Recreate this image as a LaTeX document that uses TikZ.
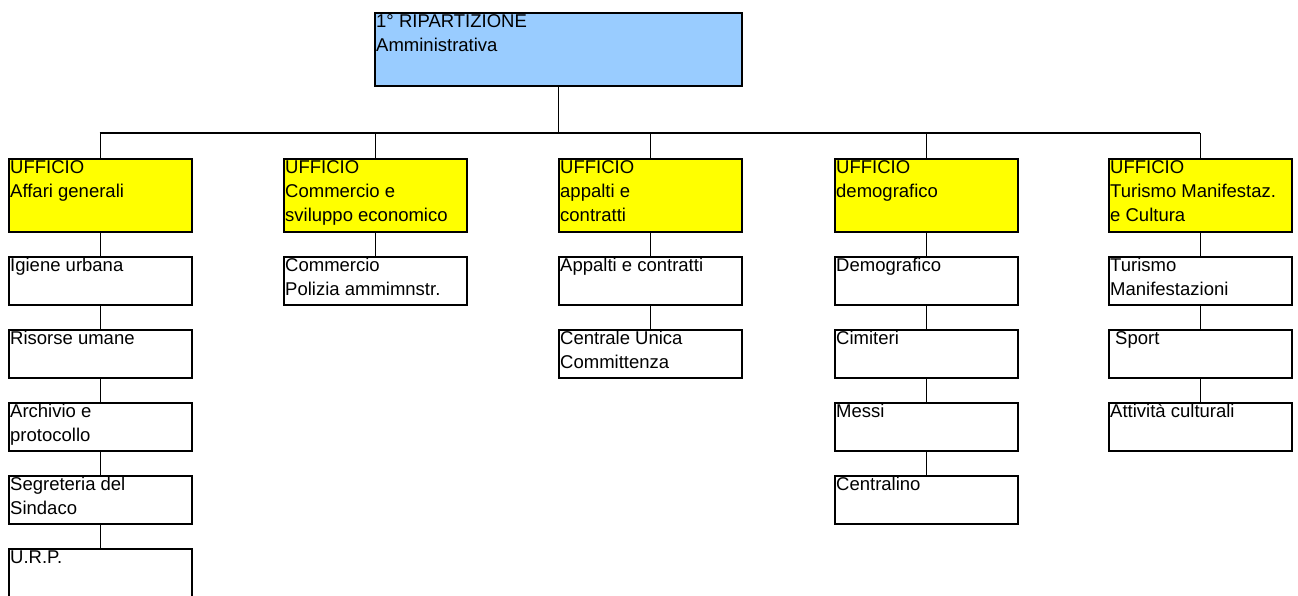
\documentclass[tikz,border=0pt]{standalone}
\usepackage{fontspec}
\setmainfont{Liberation Sans}
\definecolor{topblue}{HTML}{99CCFF}
\definecolor{offyellow}{HTML}{FFFF00}
\begin{document}
\begin{tikzpicture}[x=1pt,y=-1pt,
  boxbase/.style={draw=black,line width=2pt,rectangle,inner sep=0pt,anchor=north west,minimum width=183pt},
  topbox/.style={boxbase,fill=topblue,minimum width=367pt,minimum height=73pt},
  ufficio/.style={boxbase,fill=offyellow,minimum height=73pt},
  sub/.style={boxbase,fill=white,minimum height=48.5pt},
  txt/.style={anchor=north west,inner sep=0pt,align=left,font=\fontsize{18.5}{24}\selectfont},
  link/.style={draw=black,line width=1.8pt}]
\useasboundingbox (0,0) rectangle (1298,595);
% boxes
\node[topbox] (top) at (374,12) {};
\node[ufficio] (u1) at (8,158) {};
\node[ufficio] (u2) at (283,158) {};
\node[ufficio] (u3) at (558,158) {};
\node[ufficio] (u4) at (834,158) {};
\node[ufficio] (u5) at (1108,158) {};
% column 1
\node[sub] (a1) at (8,255.5) {};
\node[sub] (a2) at (8,328.5) {};
\node[sub] (a3) at (8,401.5) {};
\node[sub] (a4) at (8,474.5) {};
\node[sub] (a5) at (8,547.5) {};
% column 2
\node[sub] (b1) at (283,255.5) {};
% column 3
\node[sub] (c1) at (558,255.5) {};
\node[sub] (c2) at (558,328.5) {};
% column 4
\node[sub] (d1) at (834,255.5) {};
\node[sub] (d2) at (834,328.5) {};
\node[sub] (d3) at (834,401.5) {};
\node[sub] (d4) at (834,474.5) {};
% column 5
\node[sub] (e1) at (1108,255.5) {};
\node[sub] (e2) at (1108,328.5) {};
\node[sub] (e3) at (1108,401.5) {};
% texts
\newcommand{\boxtext}[3]{\node[txt] (#1) at ([xshift=2pt,yshift=1.3pt]#2.north west) {\strut #3};}
\boxtext{ttop}{top}{1° RIPARTIZIONE\\Amministrativa}
\boxtext{tu1}{u1}{UFFICIO\\Affari generali}
\boxtext{tu2}{u2}{UFFICIO\\Commercio e\\sviluppo economico}
\boxtext{tu3}{u3}{UFFICIO\\appalti e\\contratti}
\boxtext{tu4}{u4}{UFFICIO\\demografico}
\boxtext{tu5}{u5}{UFFICIO\\Turismo Manifestaz.\\e Cultura}
\boxtext{ta1}{a1}{Igiene urbana}
\boxtext{ta2}{a2}{Risorse umane}
\boxtext{ta3}{a3}{Archivio e\\protocollo}
\boxtext{ta4}{a4}{Segreteria del\\Sindaco}
\boxtext{ta5}{a5}{U.R.P.}
\boxtext{tb1}{b1}{Commercio\\Polizia ammimnstr.}
\boxtext{tc1}{c1}{Appalti e contratti}
\boxtext{tc2}{c2}{Centrale Unica\\Committenza}
\boxtext{td1}{d1}{Demografico}
\boxtext{td2}{d2}{Cimiteri}
\boxtext{td3}{d3}{Messi}
\boxtext{td4}{d4}{Centralino}
\boxtext{te1}{e1}{Turismo\\Manifestazioni}
\boxtext{te2}{e2}{\hspace{5pt}Sport}
\boxtext{te3}{e3}{Attività culturali}
% connectors
\coordinate (busL) at (99.5,133);
\coordinate (busR) at (1199.5,133);
\draw[link] (top.south) -- (top.south |- busL);
\draw[link] (busL) -- (busR);
\foreach \u in {u1,u2,u3,u4,u5} {\draw[link] (\u.north) -- (\u.north |- busL);}
\draw[link] (u1.south) -- (a1.north);
\draw[link] (a1.south) -- (a2.north);
\draw[link] (a2.south) -- (a3.north);
\draw[link] (a3.south) -- (a4.north);
\draw[link] (a4.south) -- (a5.north);
\draw[link] (u2.south) -- (b1.north);
\draw[link] (u3.south) -- (c1.north);
\draw[link] (c1.south) -- (c2.north);
\draw[link] (u4.south) -- (d1.north);
\draw[link] (d1.south) -- (d2.north);
\draw[link] (d2.south) -- (d3.north);
\draw[link] (d3.south) -- (d4.north);
\draw[link] (u5.south) -- (e1.north);
\draw[link] (e1.south) -- (e2.north);
\draw[link] (e2.south) -- (e3.north);
\end{tikzpicture}
\end{document}
